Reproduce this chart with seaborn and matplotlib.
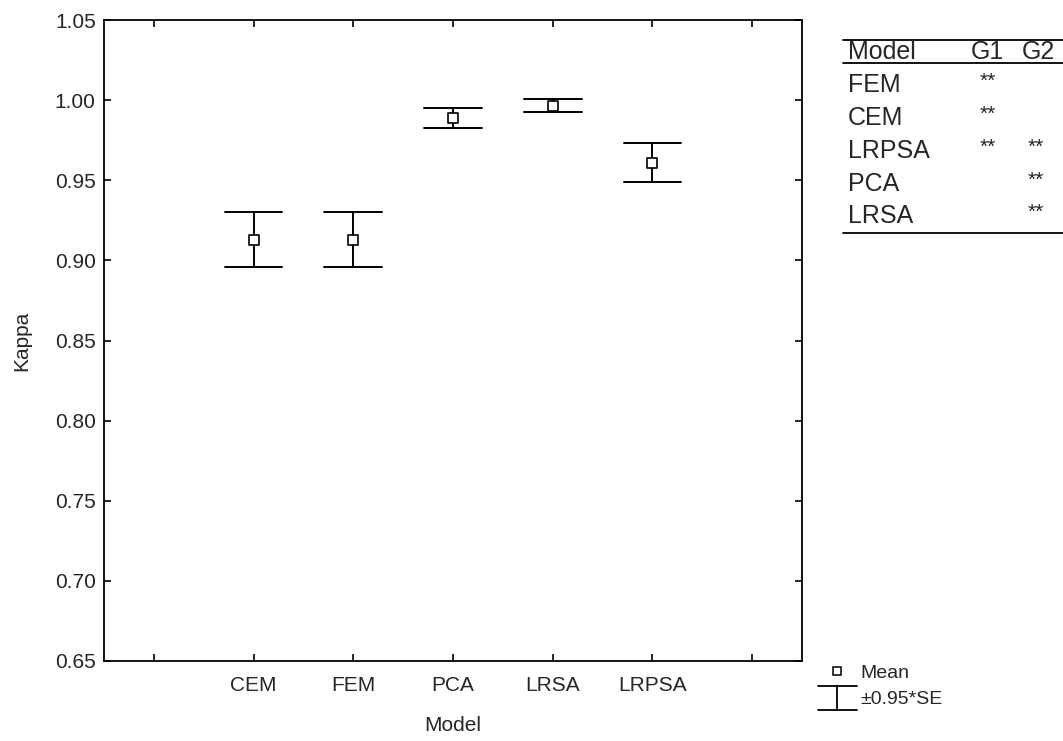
import numpy as np
import pandas as pd
import matplotlib
matplotlib.use("Agg")
import matplotlib.pyplot as plt
from matplotlib.lines import Line2D
from matplotlib.legend_handler import HandlerBase
import seaborn as sns

# Mean kappa per model and the half-width of the ±0.95*SE interval
models = ["CEM", "FEM", "PCA", "LRSA", "LRPSA"]
kappa_mean = [0.913, 0.913, 0.989, 0.9965, 0.961]
kappa_half = [0.0169, 0.0169, 0.0063, 0.004, 0.012]

# Homogeneous-group table (Model, G1, G2)
group_models = ["FEM", "CEM", "LRPSA", "PCA", "LRSA"]
group_g1 = ["**", "**", "**", "", ""]
group_g2 = ["", "", "**", "**", "**"]

y_ticks = [0.65, 0.70, 0.75, 0.80, 0.85, 0.90, 0.95, 1.00, 1.05]

sns.set_theme(style="ticks")
plt.rcParams["font.family"] = ["Liberation Sans", "DejaVu Sans"]
plt.rcParams["xtick.direction"] = "in"
plt.rcParams["ytick.direction"] = "in"

# interval end points in long form: the mean is their midpoint, the range is the bar
long = pd.DataFrame({
    "Model": models * 2,
    "Kappa": [m - h for m, h in zip(kappa_mean, kappa_half)]
    + [m + h for m, h in zip(kappa_mean, kappa_half)],
})

fig = plt.figure(figsize=(10.63, 7.41), dpi=100)
ax = fig.add_axes([104 / 1063, 80 / 741, (802 - 104) / 1063, (661 - 20) / 741])

sns.pointplot(
    data=long, x="Model", y="Kappa", order=models,
    estimator="mean", errorbar=("pi", 100), capsize=0.58,
    color="black", linestyle="none", marker="", err_kws={"linewidth": 1.4},
    ax=ax,
)
sns.scatterplot(
    x=models, y=kappa_mean, marker="s", s=45, facecolor="white",
    edgecolor="black", linewidth=1.2, zorder=5, ax=ax,
)

ax.set_xlim(-1.5, 5.5)
ax.set_xticks(range(-1, 6))
ax.set_xticklabels([""] + models + [""], fontsize=15)
ax.set_ylim(0.65, 1.05)
ax.set_yticks(y_ticks)
ax.set_yticklabels([f"{v:.2f}" for v in y_ticks], fontsize=15)
ax.tick_params(top=True, right=True, length=5, width=1.2, color="black")
ax.tick_params(axis="y", pad=6)
ax.tick_params(axis="x", pad=11)
for sp in ax.spines.values():
    sp.set_linewidth(1.3)
    sp.set_color("black")
ax.set_xlabel("Model", fontsize=15, labelpad=15)
ax.set_ylabel("Kappa", fontsize=15, labelpad=17)


class HandlerIBeam(HandlerBase):
    def create_artists(self, legend, orig_handle, xdescent, ydescent,
                       width, height, fontsize, trans):
        cx = width / 2 - xdescent
        top = height * 1.3
        bot = -height * 0.45
        arts = [
            Line2D([cx - width * 0.5, cx + width * 0.5], [top, top]),
            Line2D([cx - width * 0.5, cx + width * 0.5], [bot, bot]),
            Line2D([cx, cx], [bot, top]),
        ]
        for a in arts:
            a.set_color("black")
            a.set_linewidth(1.3)
            a.set_transform(trans)
        return arts


mean_handle = Line2D([], [], linestyle="none", marker="s", markersize=6,
                     markerfacecolor="white", markeredgecolor="black",
                     markeredgewidth=1.1)
se_handle = Line2D([], [], color="black")
leg = fig.legend(
    [mean_handle, se_handle], ["Mean", "±0.95*SE"],
    handler_map={se_handle: HandlerIBeam()},
    loc="upper left", bbox_to_anchor=(806 / 1063, 1 - 653 / 741),
    frameon=False, fontsize=14, handlelength=2.0, handletextpad=0.2,
    labelspacing=0.4, borderpad=0.1,
)

# group table at the upper right
def fx(px):
    return px / 1063

def fy(py):
    return 1 - py / 741

for ypix in (40, 63, 233):
    fig.add_artist(Line2D([fx(843), fx(1063)], [fy(ypix), fy(ypix)],
                          color="black", linewidth=1.3))
fig.text(fx(848), fy(52), "Model", fontsize=18, va="center", ha="left")
fig.text(fx(987), fy(52), "G1", fontsize=18, va="center", ha="center")
fig.text(fx(1038), fy(52), "G2", fontsize=18, va="center", ha="center")
row_y = [85, 118, 151, 184, 216]
for name, g1, g2, ry in zip(group_models, group_g1, group_g2, row_y):
    fig.text(fx(848), fy(ry), name, fontsize=18, va="center", ha="left")
    if g1:
        fig.text(fx(988), fy(ry - 4), g1, fontsize=15, va="center", ha="center")
    if g2:
        fig.text(fx(1036), fy(ry - 4), g2, fontsize=15, va="center", ha="center")

fig.savefig("out.png", dpi=100, facecolor="white")
